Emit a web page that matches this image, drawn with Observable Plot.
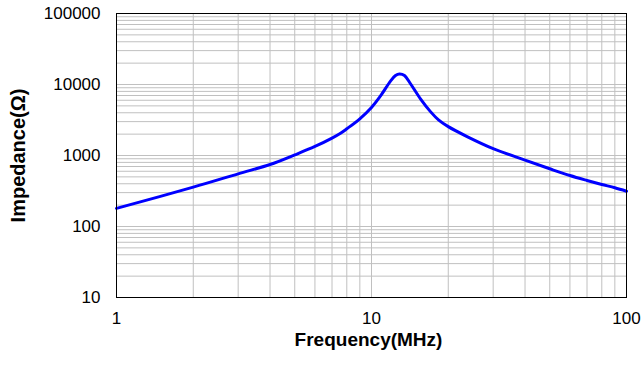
<!DOCTYPE html>
<html>
<head>
<meta charset="utf-8">
<script src="https://cdn.jsdelivr.net/npm/d3@7"></script>
<script src="https://cdn.jsdelivr.net/npm/@observablehq/plot@0.6"></script>
<style>
  html, body { margin: 0; padding: 0; background: #fff; }
  svg { font-family: "Liberation Sans", Arial, sans-serif; }
</style>
</head>
<body>
<div id="chart"></div>
<script>
// Frequency (MHz) and impedance (Ohm)
const freq = [1, 2, 3, 4, 5, 6, 7, 7.56, 8, 9, 10, 10.85, 11.87, 12.42, 12.88, 13.47, 14.22, 15.56, 17.03, 18.36, 20, 23.7, 30, 40, 50, 60, 70, 80, 90, 100];
const impedance = [180, 358, 552, 746, 1020, 1340, 1760, 2060, 2377, 3290, 4750, 6900, 11150, 13400, 14100, 13400, 10240, 6280, 4150, 3150, 2550, 1850, 1250, 860, 650, 522, 445, 391, 351, 314];

const xTicks = [1, 10, 100];
const yTicks = [10, 100, 1000, 10000, 100000];
const xGrid = [2,3,4,5,6,7,8,9,10,20,30,40,50,60,70,80,90];
const yGrid = [];
for (const d of [10, 100, 1000, 10000]) for (let k = 1; k <= 9; k++) if (d * k > 10) yGrid.push(d * k);

const data = freq.map((f, i) => ({f, z: impedance[i]}));

const chart = Plot.plot({
  width: 643,
  height: 369,
  marginLeft: 116,
  marginRight: 17,
  marginTop: 13,
  marginBottom: 72,
  style: {fontFamily: '"Liberation Sans", Arial, sans-serif', fontSize: "17px", color: "#000", background: "#fff"},
  x: {type: "log", domain: [1, 100]},
  y: {type: "log", domain: [10, 100000]},
  marks: [
    Plot.ruleX(xGrid, {stroke: "#c0c0c0", strokeWidth: 1, strokeOpacity: 1}),
    Plot.ruleY(yGrid, {stroke: "#c0c0c0", strokeWidth: 1, strokeOpacity: 1}),
    Plot.axisX(xTicks, {tickSize: 0, tickPadding: 14, fontSize: 17, tickFormat: d3.format("d"), label: null}),
    Plot.axisY(yTicks, {tickSize: 0, tickPadding: 16, fontSize: 17, tickFormat: d3.format("d"), label: null}),
    Plot.line(data, {x: "f", y: "z", stroke: "#0000ff", strokeWidth: 3, curve: "catmull-rom"}),
    Plot.frame({stroke: "#000", strokeWidth: 1}),
    Plot.text(["Frequency(MHz)"], {frameAnchor: "bottom", textAnchor: "middle", dy: 48, dx: -3, fontSize: 19, fontWeight: "bold", fill: "#000"}),
    Plot.text(["Impedance(Ω)"], {frameAnchor: "left", textAnchor: "middle", dx: -98, dy: 0, rotate: -90, fontSize: 20, fontWeight: "bold", fill: "#000"})
  ]
});
document.getElementById("chart").appendChild(chart);
</script>
</body>
</html>
